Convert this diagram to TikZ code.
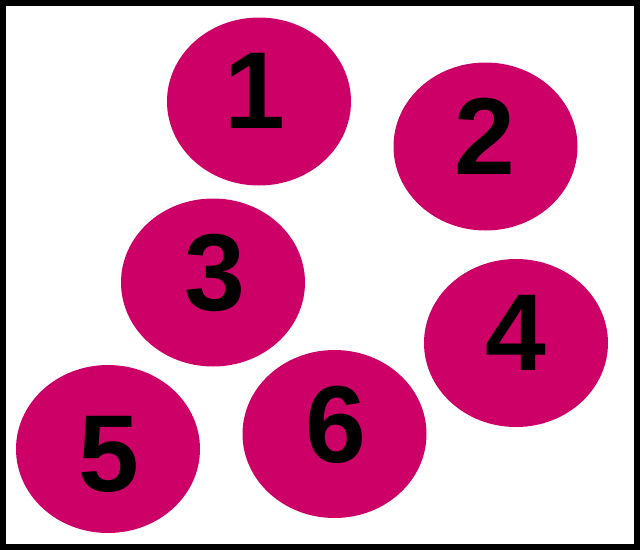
\documentclass[tikz,border=0pt]{standalone}
\usepackage{fontspec}
\setmainfont{Liberation Sans}
\usepackage{xcolor}
\definecolor{berry}{RGB}{204,0,102}
\usetikzlibrary{shapes.geometric}

\begin{document}
\begin{tikzpicture}[
  x = 0.75pt, y = -0.75pt,
  blob/.style  = {ellipse, fill=berry, inner sep=0pt,
                  minimum width=138pt, minimum height=126pt},
  digit/.style = {inner sep=0pt, font=\fontsize{82}{82}\selectfont\bfseries},
]
\useasboundingbox (0,0) rectangle (640,550);
\draw[line width=4.5pt] (3,3) rectangle (637,547);
% discs
\node[blob] (b1) at (259,101.5) {};
\node[blob] (b2) at (485.5,146.5) {};
\node[blob] (b3) at (213,282.5) {};
\node[blob] (b4) at (516,343) {};
\node[blob] (b5) at (108,449) {};
\node[blob] (b6) at (334.5,434) {};
% numbers
\node[digit] (n1) at (255,90.5) {1};
\node[digit] (n2) at (485,136.5) {2};
\node[digit] (n3) at (214.5,273) {3};
\node[digit] (n4) at (516,332.5) {4};
\node[digit] (n5) at (109,454) {5};
\node[digit] (n6) at (335.5,424.5) {6};
\end{tikzpicture}
\end{document}
